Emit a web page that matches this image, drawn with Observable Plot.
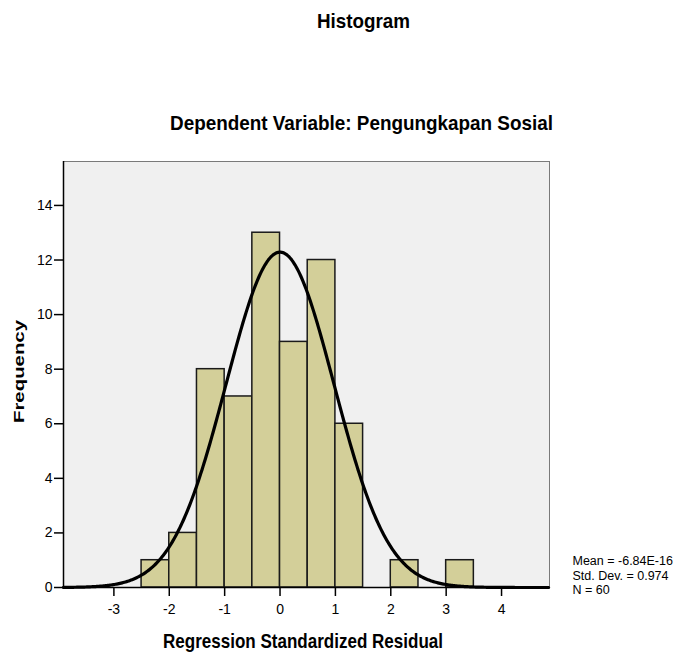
<!DOCTYPE html>
<html>
<head>
<meta charset="utf-8">
<script src="https://cdn.jsdelivr.net/npm/d3@7"></script>
<script src="https://cdn.jsdelivr.net/npm/@observablehq/plot@0.6"></script>
<style>
  html, body { margin: 0; padding: 0; background: #fff; }
  #wrap { position: relative; width: 675px; height: 653px; overflow: hidden; }
  #wrap svg { position: absolute; left: 0; top: 0; }
</style>
</head>
<body>
<div id="wrap"></div>
<script>
// Data
const binStarts   = [-2.5, -2, -1.5, -1, -0.5, 0, 0.5, 1, 1.5, 2, 2.5, 3];
const frequencies = [1, 2, 8, 7, 13, 9, 12, 6, 0, 1, 0, 1];
const binWidth = 0.5;
const xTicks = [-3, -2, -1, 0, 1, 2, 3, 4];
const yTicks = [0, 2, 4, 6, 8, 10, 12, 14];
const statMean = -6.84e-16;
const statSD = 0.974;
const statN = 60;
const statLines = ["Mean = -6.84E-16", "Std. Dev. = 0.974", "N = 60"];
const titleText = "Histogram";
const subtitleText = "Dependent Variable: Pengungkapan Sosial";
const xLabel = "Regression Standardized Residual";
const yLabel = "Frequency";

const bars = binStarts
  .map((x0, i) => ({x1: x0, x2: x0 + binWidth, y: frequencies[i]}))
  .filter(d => d.y > 0);

const xDomain = [-3.91, 4.866];
// Fitted normal curve from the chart's own statistics (N, mean, SD, bin width)
const curve = d3.range(xDomain[0], xDomain[1] + 0.001, 0.02).map(x => ({
  x,
  y: statN * binWidth * Math.exp(-0.5 * ((x - statMean) / statSD) ** 2) / (statSD * Math.sqrt(2 * Math.PI))
}));

const chart = Plot.plot({
  width: 675,
  height: 653,
  marginTop: 161,
  marginLeft: 63,
  marginRight: 126,
  marginBottom: 66,
  style: {fontFamily: "'Liberation Sans', Arial, sans-serif", fontSize: "14px", background: "transparent", color: "#000"},
  x: {domain: xDomain, label: null},
  y: {domain: [0, 15.61], label: null},
  marks: [
    Plot.frame({fill: "#f0f0f0", stroke: "#7a7a7a", strokeWidth: 1}),
    Plot.rectY(bars, {x1: "x1", x2: "x2", y: "y", fill: "#d3cf99", stroke: "#1a1a1a", strokeWidth: 1.5}),
    Plot.line(curve, {x: "x", y: "y", stroke: "#000", strokeWidth: 3.2}),
    Plot.ruleY([0], {stroke: "#000", strokeWidth: 1.5}),
    Plot.ruleX([xDomain[0]], {stroke: "#000", strokeWidth: 1.5}),
    Plot.axisX({ticks: xTicks, tickSize: 9, tickPadding: 8, tickFormat: d => d < 0 ? "-" + Math.abs(d) : String(d), strokeWidth: 1.5, fontSize: 14}),
    Plot.axisY({ticks: yTicks, tickSize: 9, tickPadding: 2, strokeWidth: 1.5, fontSize: 14})
  ]
});

const wrap = document.getElementById("wrap");
wrap.appendChild(chart);

// Overlay for titles, axis labels and the statistics box
const overlay = d3.select(wrap).append("svg")
  .attr("width", 675).attr("height", 653)
  .style("pointer-events", "none")
  .attr("font-family", "'Liberation Sans', Arial, sans-serif")
  .attr("fill", "#000");

function boldText(text, x, y, size, len, rotate) {
  const t = overlay.append("text")
    .attr("text-anchor", "middle")
    .attr("font-weight", "bold")
    .attr("font-size", size)
    .attr("textLength", len)
    .attr("lengthAdjust", "spacingAndGlyphs")
    .text(text);
  if (rotate) t.attr("transform", `translate(${x},${y}) rotate(-90)`);
  else t.attr("x", x).attr("y", y);
  return t;
}
boldText(titleText, 363.5, 28.3, 21, 93);
boldText(subtitleText, 361.5, 130, 21, 383);
boldText(xLabel, 303, 648.3, 21, 280);
boldText(yLabel, 23.5, 371.5, 14.5, 103, true);

overlay.append("g").attr("font-size", 12.5)
  .selectAll("text").data(statLines).join("text")
  .attr("x", 572.5)
  .attr("y", (d, i) => 565 + i * 14.5)
  .text(d => d);
</script>
</body>
</html>
